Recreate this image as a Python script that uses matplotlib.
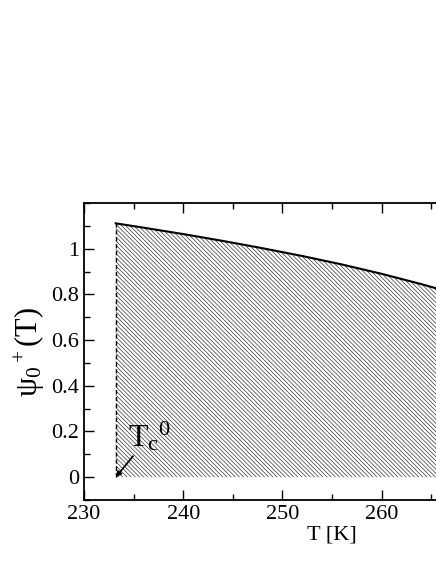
import numpy as np
import matplotlib
matplotlib.use('Agg')
import matplotlib.pyplot as plt
from matplotlib.ticker import MultipleLocator

plt.rcParams['font.family'] = ['Liberation Serif', 'DejaVu Serif']
plt.rcParams['mathtext.fontset'] = 'custom'
plt.rcParams['mathtext.rm'] = 'Liberation Serif'
plt.rcParams['mathtext.it'] = 'Liberation Serif'
plt.rcParams['hatch.linewidth'] = 0.45

# order parameter psi_0^+
T = [233.2, 236, 240, 244, 248, 252, 256, 260, 264, 268, 272]
psi = [1.111, 1.092, 1.064, 1.034, 1.002, 0.968, 0.931, 0.890, 0.845, 0.796, 0.740]
Tc0 = 233.2

fig = plt.figure(figsize=(4.36, 5.64), dpi=100)
# axes run past the right edge, as in the original
ax = fig.add_axes([84 / 436, 64 / 564, 496 / 436, 297 / 564])

ax.fill_between(T, 0, psi, facecolor='none', edgecolor='#222222',
                linewidth=0, hatch='\\' * 8)
ax.plot(T, psi, color='black', lw=1.5)
ax.plot([Tc0, Tc0], [0, psi[0]], color='black', lw=1.0, ls=(0, (3, 2)))

ax.annotate(r'$\mathrm{T_c{}^0}$', xy=(Tc0, 0.0), xytext=(234.4, 0.135),
            fontsize=23,
            arrowprops=dict(arrowstyle='-|>', color='black', lw=1.2,
                            mutation_scale=8, shrinkA=0, shrinkB=0))

ax.set_xlim(230, 280)
ax.set_ylim(-0.1, 1.2)
ax.xaxis.set_minor_locator(MultipleLocator(5))
ax.yaxis.set_minor_locator(MultipleLocator(0.1))
ax.tick_params(which='both', direction='in', top=True, right=True,
               labelsize=16, width=1)
ax.tick_params(which='major', length=7)
ax.tick_params(which='minor', length=4)
ax.set_xticks([230, 240, 250, 260, 270, 280])
ax.set_xticklabels(['230', '240', '250', '260', '', ''])
ax.set_yticks([0, 0.2, 0.4, 0.6, 0.8, 1.0])
ax.set_yticklabels(['0', '0.2', '0.4', '0.6', '0.8', '1'])
for s in ax.spines.values():
    s.set_linewidth(1.3)

ax.set_xlabel('T [K]', fontsize=16, labelpad=1)
ax.set_ylabel(r'$\mathrm{ψ_0{}^+(T)}$', fontsize=22, labelpad=3)

fig.savefig('out.png', dpi=100)
